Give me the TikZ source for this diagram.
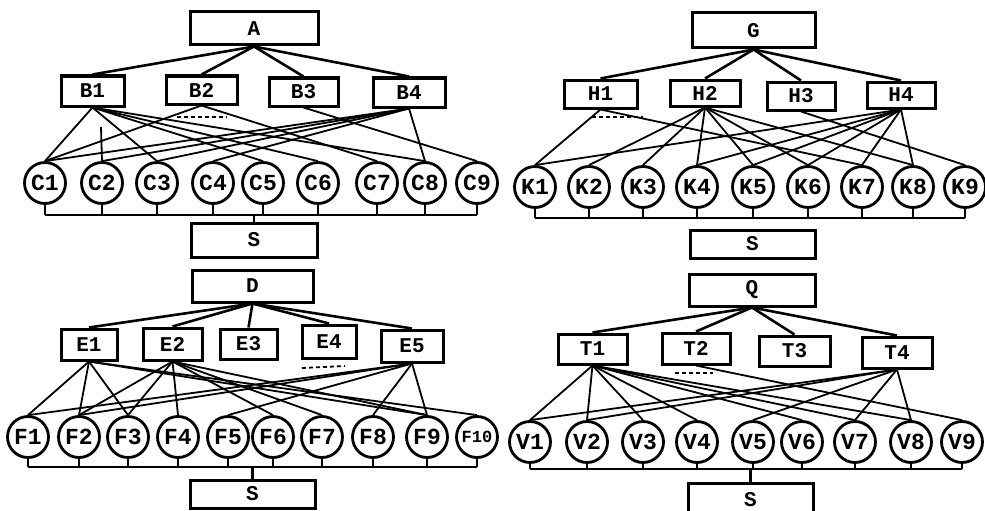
\documentclass[tikz,border=0pt]{standalone}
\usepackage{fontspec}
\newfontfamily\labfont{Liberation Mono}
\newcommand\boxfont{\labfont\bfseries\fontsize{21pt}{21pt}\selectfont}
\newcommand\circfont{\labfont\bfseries\fontsize{23pt}{23pt}\selectfont}
\newcommand\smallcircfont{\labfont\bfseries\fontsize{17pt}{17pt}\selectfont}
\tikzset{
  box/.style={draw, line width=3pt, inner sep=0pt, font=\boxfont},
  circ/.style={circle, draw, line width=2.8pt, minimum size=41pt, inner sep=0pt, font=\circfont},
  tree/.style={line width=2.6pt},
  link/.style={line width=1.8pt},
  stem/.style={line width=2.2pt},
  dashln/.style={line width=1.8pt, dash pattern=on 4pt off 3pt}
}
\begin{document}
\begin{tikzpicture}[x=1pt,y=-1pt]
\useasboundingbox (0,0) rectangle (985,511);
\clip (0,0) rectangle (985,511);
% ---------------- top left ----------------
\node[box, minimum width=128pt, minimum height=33pt] (A) at (254,28.5) {A};
\node[box, minimum width=63pt, minimum height=30pt] (B1) at (92.5,91) {B1};
\node[box, minimum width=71pt, minimum height=28pt] (B2) at (201.5,90) {B2};
\node[box, minimum width=69pt, minimum height=28pt] (B3) at (303.5,92) {B3};
\node[box, minimum width=72pt, minimum height=29pt] (B4) at (409,92.5) {B4};
\foreach \n/\x in {C1/45,C2/102,C3/157,C4/213,C5/263,C6/318,C7/377,C8/425,C9/477}
  \node[circ] (\n) at (\x,183) {\n};
\coordinate (busA) at (0,215);
\node[box, minimum width=126pt, minimum height=34pt] (S1) at (254,240) {S};
\foreach \b in {B1,B2,B3,B4} \draw[tree] (A.south) -- (\b.north);
\foreach \b/\c in {B1/C1,B1/C3,B1/C5,B1/C6,B1/C8,B2/C1,B2/C7,B3/C9,B4/C1,B4/C2,B4/C3,B4/C4,B4/C8}
  \draw[link] (\b.south) -- (\c.north);
\coordinate (tickA) at (101,127);
\draw[link] (tickA) -- (C2.north);
\coordinate (dA1) at (177,117); \coordinate (dA2) at (227,117);
\draw[dashln] (dA1) -- (dA2);
\foreach \c in {C1,C2,C3,C4,C5,C6,C7,C8,C9} \draw[stem] (\c.south) -- (\c.south |- busA);
\draw[stem] (C1.south |- busA) -- (C9.south |- busA);
\draw[stem] (S1.north) -- (S1.north |- busA);
% ---------------- top right ----------------
\node[box, minimum width=123pt, minimum height=35pt] (G) at (753.5,30.5) {G};
\node[box, minimum width=73pt, minimum height=28pt] (H1) at (600.5,94) {H1};
\node[box, minimum width=70pt, minimum height=26pt] (H2) at (705,93) {H2};
\node[box, minimum width=68pt, minimum height=28pt] (H3) at (801,96) {H3};
\node[box, minimum width=68pt, minimum height=26pt] (H4) at (901,95) {H4};
\foreach \n/\x in {K1/535,K2/589,K3/643,K4/697,K5/753,K6/808,K7/862,K8/913,K9/965}
  \node[circ] (\n) at (\x,187) {\n};
\coordinate (busB) at (0,218);
\node[box, minimum width=125pt, minimum height=28pt] (S2) at (752.5,244) {S};
\foreach \b in {H1,H2,H3,H4} \draw[tree] (G.south) -- (\b.north);
\foreach \b/\c in {H1/K1,H1/K7,H2/K2,H2/K3,H2/K4,H2/K5,H2/K6,H2/K8,H3/K9,H4/K1,H4/K4,H4/K5,H4/K6,H4/K7,H4/K8}
  \draw[link] (\b.south) -- (\c.north);
\coordinate (dB1) at (592,117); \coordinate (dB2) at (643,117);
\draw[dashln] (dB1) -- (dB2);
\foreach \c in {K1,K2,K3,K4,K5,K6,K7,K8,K9} \draw[stem] (\c.south) -- (\c.south |- busB);
\draw[stem] (K1.south |- busB) -- (K9.south |- busB);
% ---------------- bottom left ----------------
\node[box, minimum width=121pt, minimum height=32pt] (D) at (252.5,286) {D};
\node[box, minimum width=56pt, minimum height=31pt] (E1) at (89,344.5) {E1};
\node[box, minimum width=59pt, minimum height=32pt] (E2) at (172.5,344) {E2};
\node[box, minimum width=57pt, minimum height=30pt] (E3) at (248.5,344) {E3};
\node[box, minimum width=54pt, minimum height=33pt] (E4) at (329,341.5) {E4};
\node[box, minimum width=62pt, minimum height=32pt] (E5) at (412,346) {E5};
\foreach \n/\x in {F1/28,F2/79,F3/128,F4/178,F5/228,F6/273,F7/322,F8/373,F9/427}
  \node[circ] (\n) at (\x,437) {\n};
\node[circ, font=\smallcircfont] (F10) at (477,437) {F10};
\coordinate (busC) at (0,467);
\node[box, minimum width=125pt, minimum height=28pt] (S3) at (252.5,494) {S};
\foreach \b in {E1,E2,E3,E4,E5} \draw[tree] (D.south) -- (\b.north);
\foreach \b/\c in {E1/F1,E1/F2,E1/F3,E1/F9,E1/F10,E2/F2,E2/F3,E2/F4,E2/F6,E2/F7,E2/F9,E5/F1,E5/F2,E5/F5,E5/F8,E5/F9}
  \draw[link] (\b.south) -- (\c.north);
\coordinate (dC1) at (302,368); \coordinate (dC2) at (345,366);
\draw[dashln] (dC1) -- (dC2);
\foreach \c in {F1,F2,F3,F4,F5,F6,F7,F8,F9,F10} \draw[stem] (\c.south) -- (\c.south |- busC);
\draw[stem] (F1.south |- busC) -- (F10.south |- busC);
\draw[stem] (S3.north) -- (S3.north |- busC);
% ---------------- bottom right ----------------
\node[box, minimum width=126pt, minimum height=32pt] (Q) at (752,290) {Q};
\node[box, minimum width=69pt, minimum height=30pt] (T1) at (592.5,349) {T1};
\node[box, minimum width=68pt, minimum height=31pt] (T2) at (696,348.5) {T2};
\node[box, minimum width=71pt, minimum height=30pt] (T3) at (794.5,351) {T3};
\node[box, minimum width=70pt, minimum height=31pt] (T4) at (897,352.5) {T4};
\foreach \n/\x in {V1/530,V2/587,V3/643,V4/697,V5/753,V6/802,V7/855,V8/911,V9/962}
  \node[circ] (\n) at (\x,442) {\n};
\coordinate (busD) at (0,469);
\node[box, minimum width=125pt, minimum height=34pt] (S4) at (750.5,500) {S};
\foreach \b in {T1,T2,T3,T4} \draw[tree] (Q.south) -- (\b.north);
\foreach \b/\c in {T1/V1,T1/V2,T1/V3,T1/V4,T1/V6,T1/V7,T1/V8,T2/V9,T4/V1,T4/V2,T4/V5,T4/V7,T4/V8}
  \draw[link] (\b.south) -- (\c.north);
\coordinate (dD1) at (675,373); \coordinate (dD2) at (713,373);
\draw[dashln] (dD1) -- (dD2);
\foreach \c in {V1,V2,V3,V4,V5,V6,V7,V8,V9} \draw[stem] (\c.south) -- (\c.south |- busD);
\draw[stem] (V1.south |- busD) -- (V9.south |- busD);
\draw[stem] (S4.north) -- (S4.north |- busD);
\end{tikzpicture}
\end{document}
